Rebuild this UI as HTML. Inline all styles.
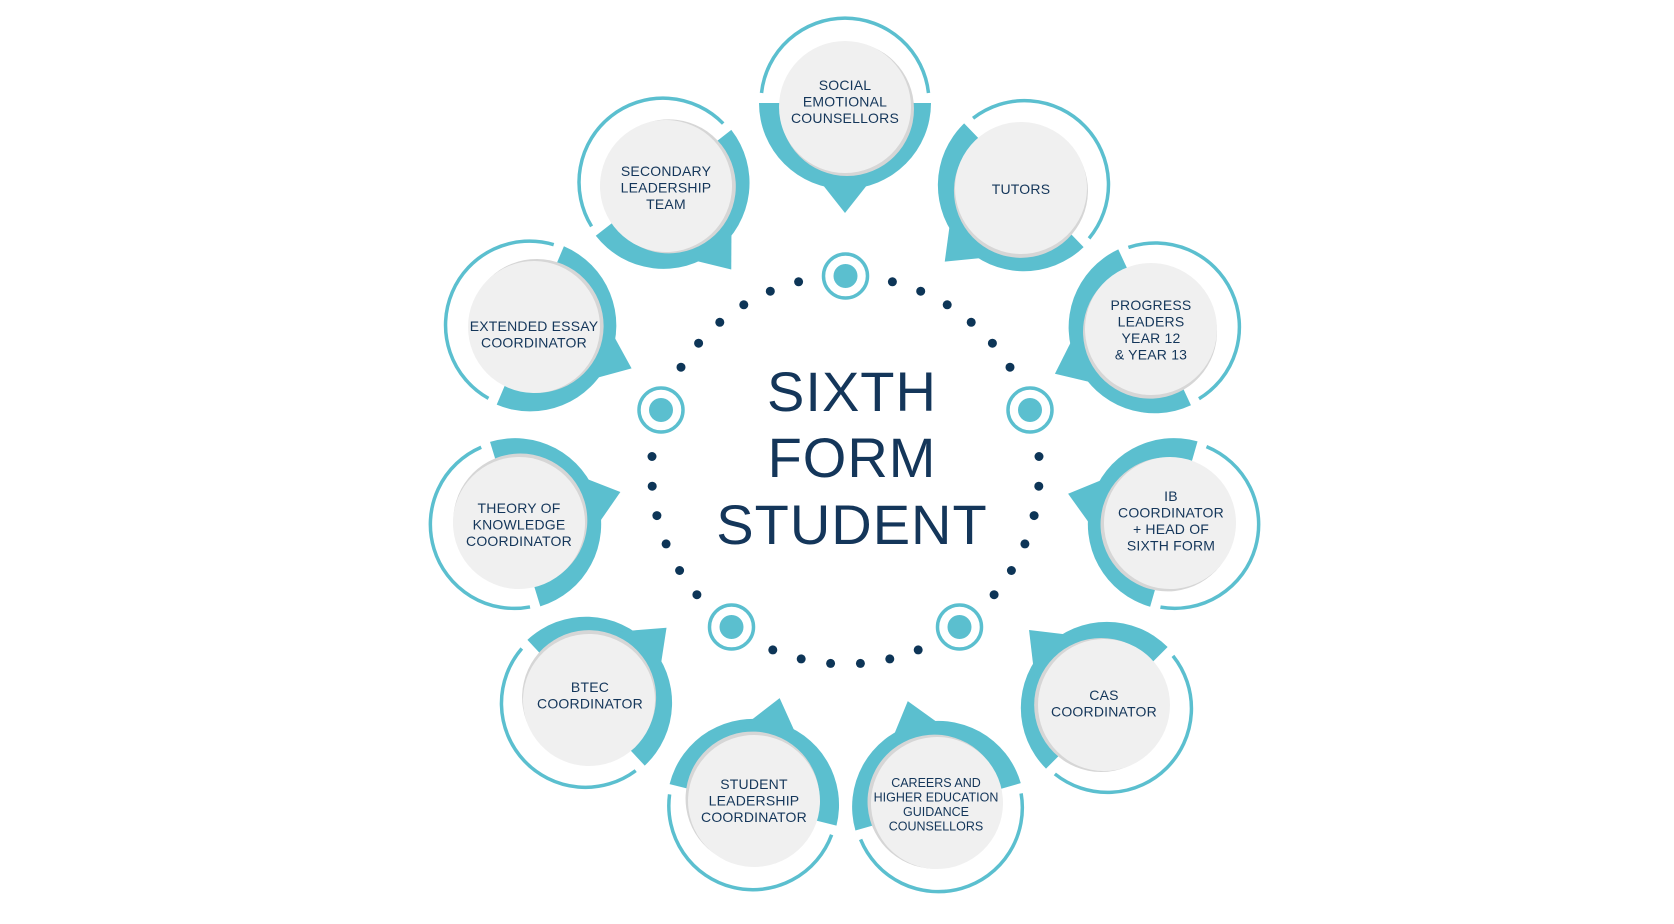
<!DOCTYPE html>
<html><head><meta charset="utf-8"><style>
html,body{margin:0;padding:0;background:#fff;width:1674px;height:924px;overflow:hidden}
svg{display:block}
text{font-family:"Liberation Sans",sans-serif;fill:#14365a;text-anchor:middle}
.t{font-size:14px;letter-spacing:0.2px}
.s{font-size:12.5px}
.big{font-size:56px;letter-spacing:1px}
</style></head><body>
<svg width="1674" height="924" viewBox="0 0 1674 924">
<defs>
<g id="node">
<path d="M -83.5,-14 A 84 84 0 0 1 83.5,-14" fill="none" stroke="#5bbfcf" stroke-width="3.5"/>
<path d="M -86,-4 A 86 86 0 1 0 86,-4 Z" fill="#5bbfcf"/>
<polygon points="-30,68 30,68 0,106" fill="#5bbfcf"/>
<circle cx="2" cy="2" r="67" fill="#d6d6d6"/>
<circle cx="0" cy="0" r="66" fill="#f0f0f0"/>
</g>
<g id="tgt">
<circle r="22" fill="#fff" stroke="#5bbfcf" stroke-width="3.5"/>
<circle r="12" fill="#5bbfcf"/>
</g>
</defs>

<g fill="#0d3557">
<circle cx="892.4" cy="281.8" r="4.5"/><circle cx="920.7" cy="291.2" r="4.5"/><circle cx="947.2" cy="304.8" r="4.5"/><circle cx="971.2" cy="322.3" r="4.5"/><circle cx="992.4" cy="343.2" r="4.5"/><circle cx="1010" cy="367.2" r="4.5"/>
<circle cx="1039" cy="456.5" r="4.5"/><circle cx="1038.8" cy="486.2" r="4.5"/><circle cx="1034.1" cy="515.6" r="4.5"/><circle cx="1024.9" cy="543.9" r="4.5"/><circle cx="1011.4" cy="570.5" r="4.5"/><circle cx="994.1" cy="594.7" r="4.5"/>
<circle cx="918.2" cy="649.9" r="4.5"/><circle cx="889.8" cy="658.9" r="4.5"/><circle cx="860.4" cy="663.4" r="4.5"/><circle cx="830.6" cy="663.4" r="4.5"/><circle cx="801.2" cy="658.9" r="4.5"/><circle cx="772.8" cy="649.9" r="4.5"/>
<circle cx="696.9" cy="594.7" r="4.5"/><circle cx="679.6" cy="570.5" r="4.5"/><circle cx="666.1" cy="543.9" r="4.5"/><circle cx="656.9" cy="515.6" r="4.5"/><circle cx="652.2" cy="486.2" r="4.5"/><circle cx="652" cy="456.5" r="4.5"/>
<circle cx="681" cy="367.2" r="4.5"/><circle cx="698.6" cy="343.2" r="4.5"/><circle cx="719.8" cy="322.3" r="4.5"/><circle cx="743.8" cy="304.8" r="4.5"/><circle cx="770.3" cy="291.2" r="4.5"/><circle cx="798.6" cy="281.8" r="4.5"/>
</g>
<use href="#tgt" x="845.5" y="276"/>
<use href="#tgt" x="1030" y="410"/>
<use href="#tgt" x="959.5" y="627"/>
<use href="#tgt" x="731.5" y="627"/>
<use href="#tgt" x="661" y="410"/>

<use href="#node" transform="translate(845,107) rotate(0)"/>
<use href="#node" transform="translate(1021,188) rotate(46)"/>
<use href="#node" transform="translate(1151,329) rotate(65)"/>
<use href="#node" transform="translate(1170,523) rotate(106)"/>
<use href="#node" transform="translate(1104,705) rotate(135)"/>
<use href="#node" transform="translate(937,803) rotate(164)"/>
<use href="#node" transform="translate(754,801) rotate(194)"/>
<use href="#node" transform="translate(589,700) rotate(227)"/>
<use href="#node" transform="translate(519,523) rotate(253)"/>
<use href="#node" transform="translate(534,327) rotate(-67)"/>
<use href="#node" transform="translate(666,186) rotate(-38)"/>

<text class="big" x="852" y="411">SIXTH</text>
<text class="big" x="852" y="477">FORM</text>
<text class="big" x="852" y="544">STUDENT</text>

<text class="t" x="845" y="90">SOCIAL</text>
<text class="t" x="845" y="106.5">EMOTIONAL</text>
<text class="t" x="845" y="123">COUNSELLORS</text>

<text class="t" x="1021" y="194">TUTORS</text>

<text class="t" x="1151" y="310">PROGRESS</text>
<text class="t" x="1151" y="326.5">LEADERS</text>
<text class="t" x="1151" y="343">YEAR 12</text>
<text class="t" x="1151" y="359.5">&amp; YEAR 13</text>

<text class="t" x="1171" y="501">IB</text>
<text class="t" x="1171" y="517.5">COORDINATOR</text>
<text class="t" x="1171" y="534">+ HEAD OF</text>
<text class="t" x="1171" y="550.5">SIXTH FORM</text>

<text class="t" x="1104" y="700">CAS</text>
<text class="t" x="1104" y="716.5">COORDINATOR</text>

<text class="s" x="936" y="787">CAREERS AND</text>
<text class="s" x="936" y="801.5">HIGHER EDUCATION</text>
<text class="s" x="936" y="816">GUIDANCE</text>
<text class="s" x="936" y="830.5">COUNSELLORS</text>

<text class="t" x="754" y="789">STUDENT</text>
<text class="t" x="754" y="805.5">LEADERSHIP</text>
<text class="t" x="754" y="822">COORDINATOR</text>

<text class="t" x="590" y="692">BTEC</text>
<text class="t" x="590" y="708.5">COORDINATOR</text>

<text class="t" x="519" y="513">THEORY OF</text>
<text class="t" x="519" y="529.5">KNOWLEDGE</text>
<text class="t" x="519" y="546">COORDINATOR</text>

<text class="t" x="534" y="331">EXTENDED ESSAY</text>
<text class="t" x="534" y="347.5">COORDINATOR</text>

<text class="t" x="666" y="176">SECONDARY</text>
<text class="t" x="666" y="192.5">LEADERSHIP</text>
<text class="t" x="666" y="209">TEAM</text>
</svg>
</body></html>
